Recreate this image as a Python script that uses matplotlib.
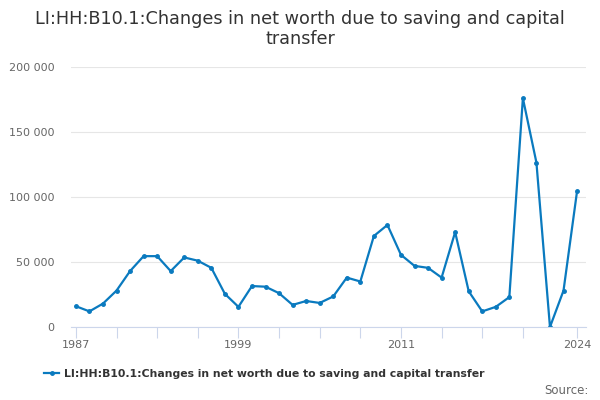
import matplotlib
matplotlib.use("Agg")
import matplotlib.pyplot as plt
from matplotlib.ticker import FuncFormatter, FixedLocator

years = list(range(1987, 2025))
values = [16000, 12000, 18000, 28000, 43000, 54500, 54500, 43000, 53500, 51000,
          45500, 25500, 15500, 31500, 31000, 26000, 17000, 20000, 18500, 23500,
          38000, 35000, 70000, 78500, 55500, 47000, 45500, 38000, 73000, 27500,
          12000, 15500, 23000, 176000, 126500, 0, 28000, 104500]
series_name = "LI:HH:B10.1:Changes in net worth due to saving and capital transfer"
title = "LI:HH:B10.1:Changes in net worth due to saving and capital\ntransfer"
y_ticks = [0, 50000, 100000, 150000, 200000]
x_labels = [1987, 1999, 2011, 2024]
x_ticks = list(range(1987, 2021, 3)) + [2024]

plt.rcParams['font.family'] = ['DejaVu Sans']

fig = plt.figure(figsize=(6, 4), dpi=100)
ax = fig.add_axes([71 / 600, 1 - 327 / 400, 515 / 600, 260 / 400])

line_color = '#0a7abf'
ax.plot(years, values, color=line_color, linewidth=1.6, marker='o', markersize=2.5,
        label=series_name)

ax.set_ylim(0, 200000)
ax.set_xlim(1986.64, 2024.66)
ax.set_yticks(y_ticks)
ax.yaxis.set_major_formatter(FuncFormatter(lambda v, p: f"{int(v):,}".replace(",", " ")))
ax.grid(axis='y', color='#e6e6e6', linewidth=0.8)
ax.set_axisbelow(True)

ax.xaxis.set_major_locator(FixedLocator(x_ticks))
ax.set_xticklabels([str(t) if t in x_labels else "" for t in x_ticks])
ax.tick_params(axis='x', length=8, width=0.8, color='#ccd6eb', labelcolor='#666666',
               labelsize=8, pad=1)
ax.tick_params(axis='y', length=0, labelsize=8, labelcolor='#666666', pad=12)

for s in ['top', 'right', 'left']:
    ax.spines[s].set_visible(False)
ax.spines['bottom'].set_color('#ccd6eb')
ax.spines['bottom'].set_linewidth(0.8)

fig.text(0.5, 1 - 29 / 400, title, ha='center', va='center', fontsize=12.7,
         color='#333333', linespacing=1.2)

leg = fig.legend(loc='center', bbox_to_anchor=(0.44, 1 - 374 / 400), frameon=False,
                 prop={'size': 7.8, 'weight': 'bold'}, handlelength=1.4,
                 handletextpad=0.4, borderaxespad=0)
for t in leg.get_texts():
    t.set_color('#333333')

fig.text(589 / 600, 1 - 390 / 400, "Source:", ha='right', va='center', fontsize=8.5,
         color='#666666')

fig.savefig("out.png", dpi=100)
